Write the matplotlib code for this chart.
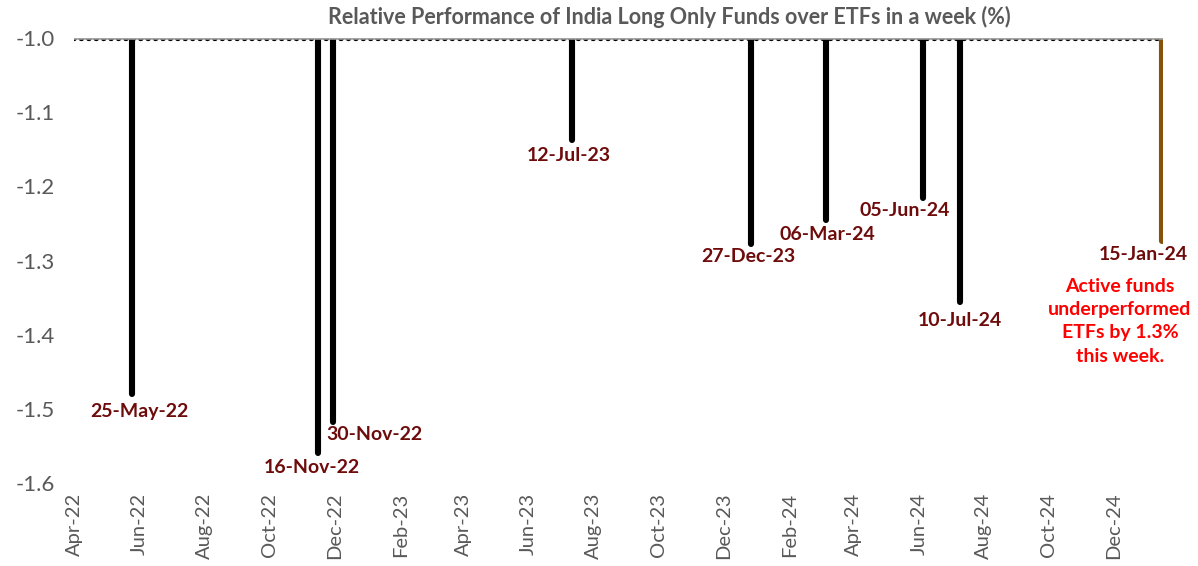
import matplotlib
matplotlib.use('Agg')
import matplotlib.pyplot as plt
import matplotlib.dates as mdates
import pandas as pd


# %%  Data

bar_dates  = ['2022-05-25', '2022-11-16', '2022-11-30', '2023-07-12', '2023-12-27',
              '2024-03-06', '2024-06-05', '2024-07-10', '2025-01-15']
bar_values = [-1.480, -1.559, -1.518, -1.138, -1.278, -1.246, -1.216, -1.356, -1.274]
bar_labels = ['25-May-22', '16-Nov-22', '30-Nov-22', '12-Jul-23', '27-Dec-23',
              '06-Mar-24', '05-Jun-24', '10-Jul-24', '15-Jan-24']

y_ticks = [-1.6, -1.5, -1.4, -1.3, -1.2, -1.1, -1.0]

note_text = 'Active funds\nunderperformed\nETFs by 1.3%\nthis week.'

title = 'Relative Performance of India Long Only Funds over ETFs in a week (%)'


# %%  Label offsets in pixels (dx right, dy down from bar end)

label_offsets = [(8, 18), (-6, 15), (41, 12), (-3, 15), (-3, 12),
                 (1, 14), (-18, 12), (0, 18), (-19, 13)]
note_offset = (-42, 80)


# %%  Style

plt.rcParams['font.family'] = ['Lato', 'DejaVu Sans']
plt.rcParams['axes.unicode_minus'] = False

GREY    = '#595959'
LABEL_C = '#6E0B0B'
BROWN   = '#86520A'
PX      = 0.72   # points per pixel at dpi 100


# %%  Plot

x = pd.to_datetime(bar_dates)

fig = plt.figure(figsize=(11.98, 5.66), dpi=100)
ax = fig.add_axes([74 / 1198, 1 - 483 / 566, (1163 - 74) / 1198, (483 - 38) / 566])

colors = ['black'] * (len(x) - 1) + [BROWN]
bars = ax.vlines(x, -1.0, bar_values, colors=colors, linewidth=4.4, zorder=3)
bars.set_capstyle('round')

# baseline with the little scallops of clipped weekly bars
ax.axhline(-1.0, color='black', linewidth=4.6, linestyle=(0, (0.001, 1.16)),
           dash_capstyle='round', zorder=2)
ax.axhline(-1.0, color='#A6A6A6', linewidth=1.8, zorder=4)

for xi, yi, lab, (dx, dy), c in zip(x, bar_values, bar_labels, label_offsets, colors):
    ax.annotate(lab, xy=(xi, yi), xytext=(dx * PX, -dy * PX), textcoords='offset points',
                ha='center', va='center', fontsize=14, fontweight='bold',
                color=LABEL_C, annotation_clip=False)

ax.annotate(note_text, xy=(x[-1], bar_values[-1]),
            xytext=(note_offset[0] * PX, -note_offset[1] * PX), textcoords='offset points',
            ha='center', va='center', fontsize=14, fontweight='bold', color='red',
            linespacing=1.45, annotation_clip=False)

ax.set_ylim(-1.6, -1.0)
ax.set_yticks(y_ticks)
ax.yaxis.set_major_formatter(plt.FormatStrFormatter('%.1f'))
ax.set_xlim(pd.Timestamp('2022-04-01'), pd.Timestamp('2025-01-16'))
ax.xaxis.set_major_locator(mdates.MonthLocator(bymonth=[2, 4, 6, 8, 10, 12]))
ax.xaxis.set_major_formatter(mdates.DateFormatter('%b-%y'))

ax.tick_params(axis='y', length=0, pad=14, labelsize=16, labelcolor=GREY)
ax.tick_params(axis='x', length=0, pad=7, labelsize=14.5, labelcolor=GREY, rotation=90)

for s in ax.spines.values():
    s.set_visible(False)

fig.text(669 / 1198, 1 - 17 / 566, title, ha='center', va='center',
         fontsize=15.5, fontweight='bold', color=GREY)

fig.savefig('out.png', dpi=100)
